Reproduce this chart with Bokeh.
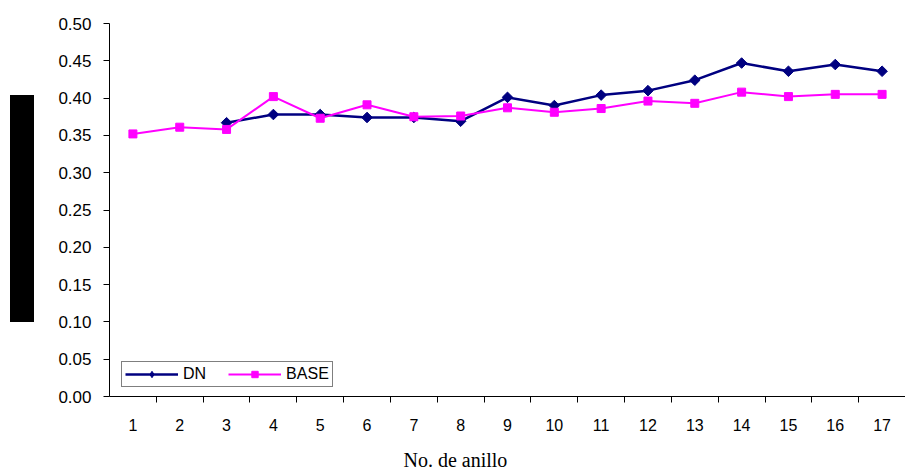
from bokeh.plotting import figure
from bokeh.models import (FixedTicker, Range1d, Legend, LegendItem, Title, Div,
                          CustomJSTickFormatter)
from bokeh.layouts import row
from bokeh.embed import file_html
from bokeh.resources import INLINE
import numpy as np

anillos = list(range(1, 18))
x_labels = [str(a) for a in anillos]
dn = [np.nan, np.nan, 0.367, 0.378, 0.378, 0.374, 0.374, 0.369, 0.401, 0.390,
      0.404, 0.410, 0.424, 0.447, 0.436, 0.445, 0.436]
base = [0.352, 0.361, 0.358, 0.402, 0.373, 0.391, 0.375, 0.376, 0.387, 0.381,
        0.386, 0.396, 0.393, 0.408, 0.402, 0.405, 0.405]
y_ticks = [0.0, 0.05, 0.10, 0.15, 0.20, 0.25, 0.30, 0.35, 0.40, 0.45, 0.50]
x_title = "No. de anillo"

W, H = 905, 474
BOX_L, BOX_W = 10, 24
FW = W - BOX_L - BOX_W
LEFT = 109 - BOX_L - BOX_W

p = figure(width=FW, height=H, frame_width=W - 109, frame_height=373,
           output_backend="svg", toolbar_location=None,
           x_range=Range1d(0.5, 17.5), y_range=Range1d(0, 0.5),
           min_border_left=LEFT, min_border_right=0,
           min_border_top=23, min_border_bottom=0)
p.outline_line_color = None
p.xgrid.visible = False
p.ygrid.visible = False
p.background_fill_color = "white"
p.border_fill_color = "white"

FONT = "Liberation Sans"

xa = p.xaxis[0]
xa.ticker = FixedTicker(ticks=anillos, minor_ticks=[a + 0.5 for a in anillos[:-1]])
xa.major_label_overrides = {a: l for a, l in zip(anillos, x_labels)}
xa.major_tick_line_color = None
xa.major_tick_in = 0
xa.major_tick_out = 6
xa.minor_tick_line_color = "black"
xa.minor_tick_in = 0
xa.minor_tick_out = 6
xa.axis_line_color = "black"
xa.major_label_text_font = FONT
xa.major_label_text_font_size = "16px"
xa.major_label_text_color = "black"
xa.major_label_standoff = 16

ya = p.yaxis[0]
ya.ticker = FixedTicker(ticks=y_ticks, minor_ticks=[])
ya.formatter = CustomJSTickFormatter(code="return tick.toFixed(2);")
ya.major_tick_in = 0
ya.major_tick_out = 6
ya.major_tick_line_color = "black"
ya.minor_tick_line_color = None
ya.axis_line_color = "black"
ya.major_label_text_font = FONT
ya.major_label_text_font_size = "17px"
ya.major_label_text_color = "black"
ya.major_label_standoff = 12

l_dn = p.line(anillos, dn, line_color="#000080", line_width=2.5)
s_dn = p.scatter(anillos, dn, marker="square", angle=np.pi / 4, size=7.5,
                 fill_color="#000080", line_color="#000080")
l_b = p.line(anillos, base, line_color="#FF00FF", line_width=2)
s_b = p.scatter(anillos, base, marker="square", size=8, fill_color="#FF00FF",
                line_color="#FF00FF")
# legend key for DN: one point placed outside the visible ranges
k_dn = p.scatter([-10], [-10], marker="diamond", size=11,
                 fill_color="#000080", line_color="#000080")

legend = Legend(items=[LegendItem(label="DN", renderers=[l_dn, k_dn]),
                       LegendItem(label="BASE", renderers=[l_b, s_b])],
                orientation="horizontal", location=(12, 9),
                border_line_color="black", border_line_width=1,
                background_fill_color="white", background_fill_alpha=1,
                label_text_font=FONT, label_text_font_size="16px",
                label_text_color="black",
                glyph_width=53, glyph_height=16, label_standoff=5,
                spacing=22, padding=3, margin=0, label_height=16)
p.add_layout(legend, "center")

p.add_layout(Title(text=x_title, align="left", offset=294, standoff=26,
                   text_font="Liberation Serif", text_font_size="20px",
                   text_font_style="normal", text_color="black"), "below")

box = Div(text='<div style="width:%dpx;height:227px;background:black"></div>' % BOX_W,
          width=BOX_W, height=227, margin=(95, 0, 0, BOX_L))

layout = row(box, p, spacing=0)
open("out.html", "w").write(file_html(layout, INLINE))
